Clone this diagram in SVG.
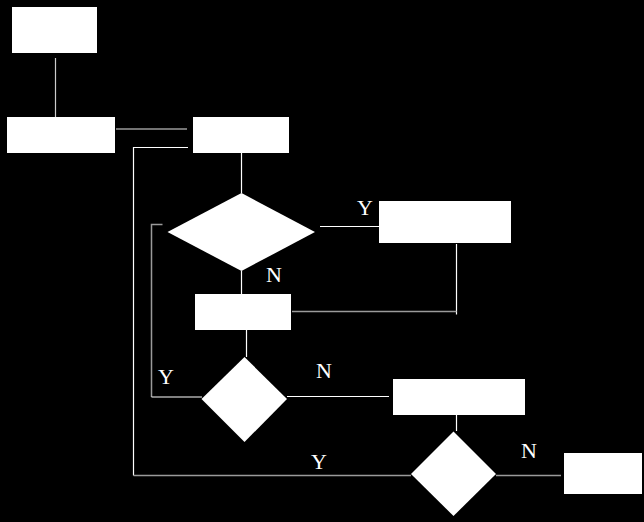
<svg xmlns="http://www.w3.org/2000/svg" width="644" height="522" viewBox="0 0 644 522">
<style>
.n{fill:#fff;stroke:none}
.c{fill:none;stroke:#fff;stroke-width:1.2}
.g{fill:none;stroke:#9a9a9a;stroke-width:1.5}
.l{font-family:"Liberation Serif","Times New Roman",serif;font-size:22px;fill:#fff}
</style>
<rect width="644" height="522" fill="#000"/>
<g id="connectors">
<path class="c" d="M55.5 58V117" style="stroke:#ccc"/>
<path class="g" d="M116 129H187"/>
<path class="c" d="M188 147.5H133.5V475.5"/>
<path class="g" d="M133.5 475.5H411"/>
<path class="c" d="M241.5 153V193"/>
<path class="c" d="M241.5 271V294"/>
<path class="c" d="M320 226.5H379"/>
<path class="c" d="M456.5 244V314.5"/>
<path class="g" d="M292 311.5H456.5"/>
<path class="g" d="M162.5 224.5H151.5V397"/>
<path class="c" d="M151.5 397H202"/>
<path class="c" d="M246.5 330V357"/>
<path class="c" d="M287 396.5H389"/>
<path class="c" d="M456.5 415V431"/>
<path class="g" d="M496 475.5H561"/>
</g>
<g id="start"><rect class="n" x="12" y="7" width="85" height="46"/></g>
<g id="box2"><rect class="n" x="7" y="117" width="108" height="36"/></g>
<g id="box3"><rect class="n" x="193" y="117" width="96" height="36"/></g>
<g id="decision1"><polygon class="n" points="241.5,193 315,232 241.5,271 167.5,232"/></g>
<g id="box4"><rect class="n" x="379" y="201" width="132" height="42"/></g>
<g id="box5"><rect class="n" x="195" y="294" width="96" height="36"/></g>
<g id="decision2"><polygon class="n" points="244.5,357 287,399 244.5,442 201.5,399"/></g>
<g id="box6"><rect class="n" x="393" y="379" width="132" height="36"/></g>
<g id="decision3"><polygon class="n" points="453.5,431.5 496,474 453.5,516 411,474"/></g>
<g id="end"><rect class="n" x="564" y="453" width="78" height="41"/></g>
<g id="labels">
<text class="l" x="357" y="214.5">Y</text>
<text class="l" x="266" y="282">N</text>
<text class="l" x="158" y="384">Y</text>
<text class="l" x="316" y="378">N</text>
<text class="l" x="311" y="469">Y</text>
<text class="l" x="521" y="457.5">N</text>
</g>
</svg>
